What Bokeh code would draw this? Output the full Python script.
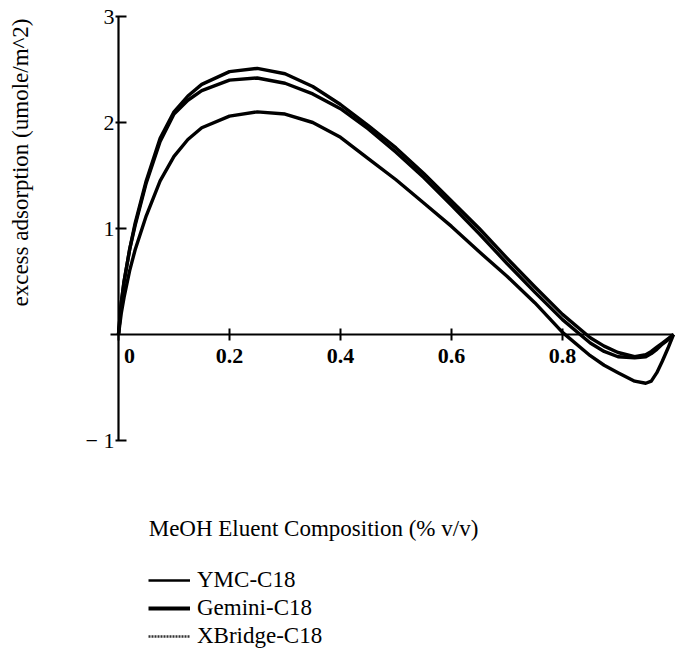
from bokeh.plotting import figure
from bokeh.models import Range1d, FixedTicker, Label, Legend, LegendItem, ColumnDataSource
from bokeh.embed import file_html
from bokeh.resources import INLINE
import math

# ---- data ----
x_pct = [0, 0.005, 0.01, 0.02, 0.03, 0.05, 0.075, 0.1, 0.125, 0.15, 0.2, 0.25, 0.3,
         0.35, 0.4, 0.45, 0.5, 0.55, 0.6, 0.65, 0.7, 0.75, 0.8, 0.85, 0.875, 0.9,
         0.93, 0.95, 0.96, 0.97, 0.98, 0.99, 1.0]
ymc = [0, 0.3, 0.5, 0.8, 1.05, 1.45, 1.85, 2.1, 2.25, 2.36, 2.48, 2.51, 2.46,
       2.34, 2.17, 1.97, 1.76, 1.52, 1.26, 1.0, 0.72, 0.45, 0.19, -0.03, -0.11, -0.17,
       -0.21, -0.19, -0.16, -0.12, -0.08, -0.04, 0]
gemini = [0, 0.3, 0.5, 0.8, 1.03, 1.43, 1.82, 2.08, 2.21, 2.3, 2.4, 2.42, 2.37,
          2.27, 2.13, 1.94, 1.72, 1.48, 1.22, 0.95, 0.67, 0.4, 0.14, -0.08, -0.16, -0.21,
          -0.22, -0.21, -0.18, -0.14, -0.09, -0.05, 0]
xbridge = [0, 0.2, 0.35, 0.6, 0.8, 1.12, 1.45, 1.68, 1.84, 1.95, 2.06, 2.1, 2.08,
           2.0, 1.86, 1.66, 1.46, 1.24, 1.02, 0.78, 0.55, 0.3, 0.02, -0.2, -0.29, -0.36,
           -0.44, -0.46, -0.44, -0.36, -0.25, -0.13, 0]
series_names = ["YMC-C18", "Gemini-C18", "XBridge-C18"]
x_ticks = [0, 0.2, 0.4, 0.6, 0.8]
y_ticks = [-1, 1, 2, 3]
x_title = "MeOH Eluent Composition (% v/v)"
y_title = "excess adsorption (umole/m^2)"

FONT = "Liberation Serif"

# frame fills the canvas; ranges chosen so data 0..1 / -1..3 sit where the reference draws them
W, H = 677, 672
X0PX, XUNIT = 118.0, 555.0
Y0PX, YUNIT = 334.0, 106.0
x_range = Range1d((0 - X0PX) / XUNIT, (W - X0PX) / XUNIT)
y_range = Range1d((Y0PX - H) / YUNIT, (Y0PX - 0) / YUNIT)

p = figure(width=W, height=H, x_range=x_range, y_range=y_range,
           output_backend="svg", toolbar_location=None, min_border=0,
           outline_line_color=None, background_fill_color="white",
           border_fill_color="white")
p.grid.visible = False

src = ColumnDataSource(dict(x=x_pct, ymc=ymc, gemini=gemini, xbridge=xbridge))
r1 = p.line("x", "ymc", source=src, line_color="black", line_width=3.4, line_join="round")
r2 = p.line("x", "gemini", source=src, line_color="black", line_width=3.4, line_join="round")
r3 = p.line("x", "xbridge", source=src, line_color="black", line_width=3.4, line_join="round")

# axes crossing at the origin
xa = p.xaxis[0]
xa.fixed_location = 0
xa.bounds = (-0.014, 1.0)
xa.ticker = FixedTicker(ticks=x_ticks)
xa.minor_tick_line_color = None
xa.major_tick_in = 6
xa.major_tick_out = 6
xa.major_tick_line_width = 2
xa.axis_line_width = 2.2
xa.major_label_standoff = 2
xa.major_label_text_font = FONT
xa.major_label_text_font_size = "22px"
xa.major_label_text_font_style = "bold"
xa.major_label_text_color = "black"
xa.major_label_overrides = {0: "\u2007\u20070"}

ya = p.yaxis[0]
ya.fixed_location = 0
ya.bounds = (-1, 3)
ya.ticker = FixedTicker(ticks=y_ticks)
ya.minor_tick_line_color = None
ya.major_tick_in = 8
ya.major_tick_out = 3
ya.major_tick_line_width = 2
ya.axis_line_width = 2.2
ya.major_label_standoff = 1
ya.major_label_text_font = FONT
ya.major_label_text_font_size = "22px"
ya.major_label_text_color = "black"
ya.major_label_overrides = {-1: "\u2212 1", 1: "1", 2: "2", 3: "3"}

# axis titles
p.add_layout(Label(x=(20 - X0PX) / XUNIT, y=(Y0PX - 162) / YUNIT, text=y_title,
                   angle=math.pi / 2, text_align="center", text_baseline="middle",
                   text_font=FONT, text_font_size="23px", text_color="black"))
p.add_layout(Label(x=(313 - X0PX) / XUNIT, y=(Y0PX - 528) / YUNIT, text=x_title,
                   text_align="center", text_baseline="middle",
                   text_font=FONT, text_font_size="23px", text_color="black"))

# legend with the sample line styles of the reference
nan = float("nan")
l1 = p.line([nan], [nan], line_color="black", line_width=2.5)
l2 = p.line([nan], [nan], line_color="black", line_width=4)
l3 = p.line([nan], [nan], line_color="#333333", line_width=2.5, line_dash="2 1")
legend = Legend(items=[LegendItem(label=series_names[0], renderers=[l1]),
                       LegendItem(label=series_names[1], renderers=[l2]),
                       LegendItem(label=series_names[2], renderers=[l3])],
                location=(148, 22), orientation="vertical",
                glyph_width=42, glyph_height=28, label_height=28, label_standoff=7,
                spacing=0, padding=0, margin=0,
                border_line_color=None, background_fill_alpha=0,
                label_text_font=FONT, label_text_font_size="23px",
                label_text_color="black")
p.add_layout(legend)

open("out.html", "w").write(file_html(p, INLINE))
